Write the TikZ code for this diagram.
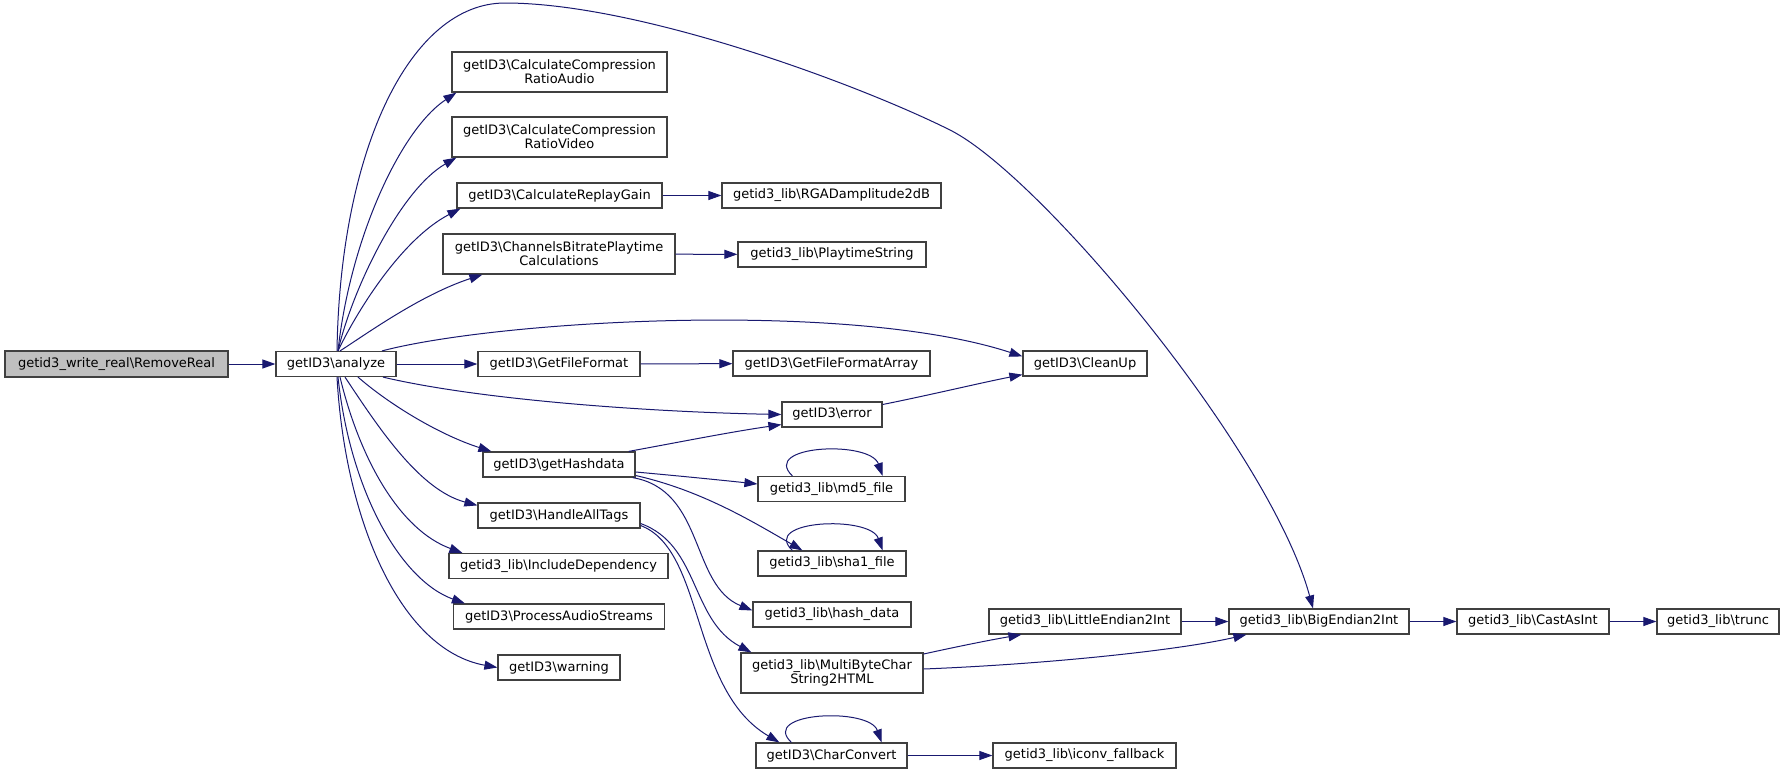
\documentclass[tikz,border=0pt]{standalone}
\usepackage{fontspec}
\setmainfont{DejaVu Sans}
\usetikzlibrary{arrows.meta,calc}
\definecolor{edgeblue}{HTML}{191970}
\definecolor{boxgray}{HTML}{BFBFBF}
\definecolor{boxline}{HTML}{404040}
\newcommand{\bs}{\textbackslash}
\begin{document}
\begin{tikzpicture}[x=1pt,y=-1pt,
  box/.style={draw=boxline, line width=1.2pt, fill=white, inner sep=0pt, align=center,
    font=\fontsize{13}{14}\selectfont, minimum height=25pt},
  tall/.style={minimum height=40pt},
  edge/.style={draw=edgeblue, line width=1pt, -{Triangle[length=13pt,width=9pt]}, fill=none}]
\useasboundingbox (0,0) rectangle (1785,774);
\fill[white] (0,0) rectangle (1785,774);
% nodes
\node[box, fill=boxgray, minimum width=223pt, minimum height=26pt] (rr) at (116.5,364) {getid3\_write\_real\bs RemoveReal};
\node[box, minimum width=120pt] (an) at (336,364) {getID3\bs analyze};
\node[box, tall, minimum width=215pt] (aud) at (559.5,72) {getID3\bs CalculateCompression\\RatioAudio};
\node[box, tall, minimum width=215pt] (vid) at (559.5,137) {getID3\bs CalculateCompression\\RatioVideo};
\node[box, minimum width=205pt] (rg) at (559.5,195.5) {getID3\bs CalculateReplayGain};
\node[box, tall, minimum width=232pt] (cb) at (559,254) {getID3\bs ChannelsBitratePlaytime\\Calculations};
\node[box, minimum width=162pt] (gff) at (559,364) {getID3\bs GetFileFormat};
\node[box, minimum width=152pt] (ghd) at (559,464.5) {getID3\bs getHashdata};
\node[box, minimum width=162pt] (hat) at (559,515.5) {getID3\bs HandleAllTags};
\node[box, minimum width=219pt] (inc) at (558.5,566) {getid3\_lib\bs IncludeDependency};
\node[box, minimum width=211pt] (pas) at (559,616.5) {getID3\bs ProcessAudioStreams};
\node[box, minimum width=122pt] (warn) at (559,667.5) {getID3\bs warning};
\node[box, minimum width=219pt] (rga) at (831.5,195.5) {getid3\_lib\bs RGADamplitude2dB};
\node[box, minimum width=188pt] (pts) at (832,254.5) {getid3\_lib\bs PlaytimeString};
\node[box, minimum width=197pt] (gffa) at (831.5,363.5) {getID3\bs GetFileFormatArray};
\node[box, minimum width=100pt] (err) at (832,414.5) {getID3\bs error};
\node[box, minimum width=147pt] (md5) at (831.5,489) {getid3\_lib\bs md5\_file};
\node[box, minimum width=148pt] (sha1) at (832,563.5) {getid3\_lib\bs sha1\_file};
\node[box, minimum width=158pt] (hash) at (832,614.5) {getid3\_lib\bs hash\_data};
\node[box, tall, minimum width=182pt] (mbc) at (832,673) {getid3\_lib\bs MultiByteChar\\String2HTML};
\node[box, minimum width=151pt] (cc) at (831.5,755.5) {getID3\bs CharConvert};
\node[box, minimum width=124pt] (clean) at (1085,363.5) {getID3\bs CleanUp};
\node[box, minimum width=192pt] (lei) at (1085,621.5) {getid3\_lib\bs LittleEndian2Int};
\node[box, minimum width=183pt] (icv) at (1084.5,755.5) {getid3\_lib\bs iconv\_fallback};
\node[box, minimum width=180pt] (bei) at (1319,621.5) {getid3\_lib\bs BigEndian2Int};
\node[box, minimum width=152pt] (cai) at (1533,621.5) {getid3\_lib\bs CastAsInt};
\node[box, minimum width=122pt] (trunc) at (1718,621.5) {getid3\_lib\bs trunc};
% edges
\draw[edge] (rr) -- (an);
\draw[edge] ([xshift=2pt]an.north) .. controls (350,240) and (400,130) .. ([xshift=5pt]aud.south west);
\draw[edge] ([xshift=2pt]an.north) .. controls (352,290) and (400,190) .. ([xshift=5pt]vid.south west);
\draw[edge] ([xshift=2pt]an.north) .. controls (355,315) and (400,240) .. ([xshift=4pt]rg.south west);
\draw[edge] ([xshift=4pt]an.north) .. controls (365,335) and (420,295) .. ([xshift=40pt]cb.south west);
\draw[edge] ([xshift=46pt]an.north) .. controls (500,320) and (850,300) .. ([yshift=-6pt]clean.north west);
\draw[edge] (an) -- (gff);
\draw[edge] ([xshift=47pt]an.south) .. controls (480,400) and (650,412) .. (err.west);
\draw[edge] ([xshift=22pt]an.south) .. controls (390,405) and (440,435) .. ([xshift=9pt]ghd.north west);
\draw[edge] ([xshift=9pt]an.south) .. controls (380,430) and (420,490) .. ([yshift=-3pt]hat.north west);
\draw[edge] ([xshift=4pt]an.south) .. controls (360,460) and (400,530) .. ([xshift=14pt]inc.north west);
\draw[edge] ([xshift=2pt]an.south) .. controls (350,490) and (400,580) .. ([xshift=12pt]pas.north west);
\draw[edge] ([xshift=1pt]an.south) .. controls (345,520) and (400,650) .. (warn.west);
\draw[edge] ([xshift=1pt]an.north) .. controls (340,150) and (410,3) .. (505,3)
  .. controls (640,3) and (860,85) .. (950,130)
  .. controls (1040,175) and (1270,450) .. ([xshift=-6pt]bei.north);
\draw[edge] (rg) -- (rga);
\draw[edge] (cb) -- (pts);
\draw[edge] (gff) -- (gffa);
\draw[edge] ([yshift=10pt]err.east) .. controls (930,395) and (980,383) .. ([yshift=2pt]clean.south west);
\draw[edge] ([xshift=-7pt]ghd.north east) .. controls (680,442) and (730,432) .. ([yshift=3pt]err.south west);
\draw[edge] ([yshift=-7.5pt]ghd.east) .. controls (680,476) and (720,480) .. ([yshift=5pt]md5.west);
\draw[edge] ([yshift=-11pt]ghd.east) .. controls (700,490) and (750,520) .. ([xshift=45pt]sha1.north west);
\draw[edge] ([xshift=-3pt]ghd.south east) .. controls (705,490) and (690,585) .. ([yshift=4pt]hash.west);
\draw[edge] ([yshift=-8pt]hat.east) .. controls (700,545) and (690,620) .. ([xshift=11pt]mbc.north west);
\draw[edge] ([yshift=-10pt]hat.east) .. controls (705,550) and (690,690) .. ([xshift=24pt]cc.north west);
\draw[edge] ([xshift=35pt]md5.north west) .. controls (760,445) and (870,440) .. ([xshift=-23pt]md5.north east);
\draw[edge] ([xshift=35pt]sha1.north west) .. controls (760,520) and (870,515) .. ([xshift=-24pt]sha1.north east);
\draw[edge] ([xshift=36pt]cc.north west) .. controls (759,712) and (869,707) .. ([xshift=-26pt]cc.north east);
\draw[edge] (cc) -- (icv);
\draw[edge] ([yshift=19pt]mbc.east) .. controls (960,646) and (990,640) .. ([xshift=33pt]lei.south west);
\draw[edge] ([yshift=4pt]mbc.east) .. controls (1050,664) and (1180,650) .. ([xshift=18pt]bei.south west);
\draw[edge] (lei) -- (bei);
\draw[edge] (bei) -- (cai);
\draw[edge] (cai) -- (trunc);
\end{tikzpicture}
\end{document}
